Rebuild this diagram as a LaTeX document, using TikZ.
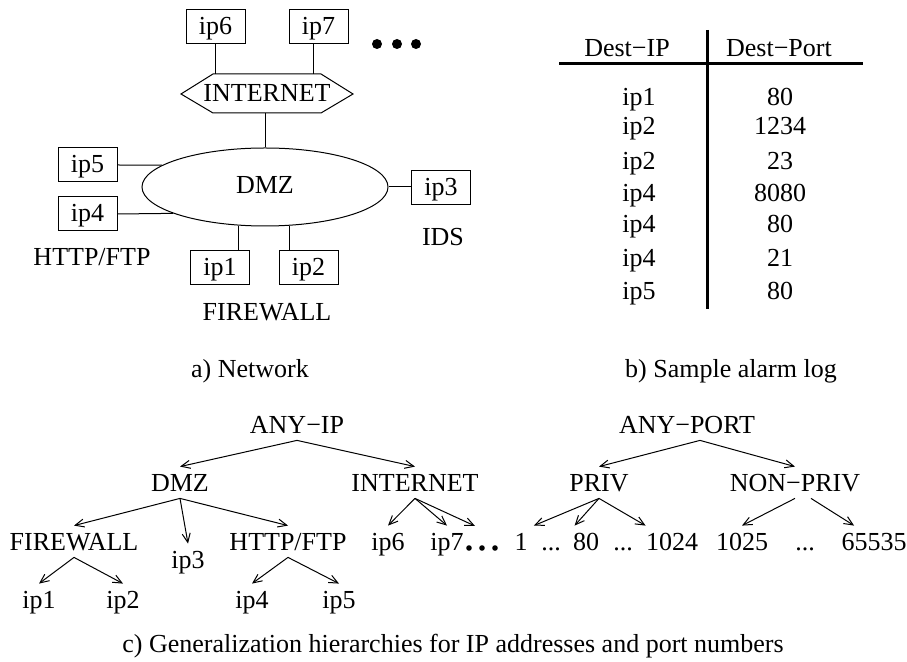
\documentclass[tikz,border=0pt]{standalone}
\usepackage{fontspec}
\setmainfont{Liberation Serif}
\usetikzlibrary{shapes,arrows.meta,positioning,calc}

\begin{document}
\begin{tikzpicture}[
    x=0.5pt, y=-0.5pt,
    every node/.style={font=\fontsize{13}{15}\selectfont, inner sep=0pt,
        text height=9pt, text depth=2.5pt},
    host/.style={draw, line width=0.5pt, minimum width=29.5pt, minimum height=17pt,
        text height=10pt, text depth=2pt},
    link/.style={line width=0.5pt},
    tn/.style={anchor=base, text height=12.5pt, text depth=3pt},
    gen/.style={line width=0.5pt, -{Straight Barb[length=4.5pt, width=4pt]}},
    bigdot/.style={circle, fill, text height=0pt, text depth=0pt, minimum size=5pt},
    smalldot/.style={circle, fill, text height=0pt, text depth=0pt, minimum size=2.8pt},
    tblline/.style={line width=1.5pt}
]
\useasboundingbox (0,0) rectangle (907,662);

% a) Network: outside hosts
\node[host] (ip6) at (215.5,27) {ip6};
\node[host] (ip7) at (318.5,27) {ip7};
\foreach \x [count=\i] in {377,397,416} {
    \node[bigdot] (more\i) at (\x,44) {};
}

% Internet hexagon
\draw[link] (181,94) -- (213,74) coordinate (inettop) -- (321,74) -- (353,94)
    -- (321,113) -- (213,113) coordinate (inetbot) -- cycle;
\node (inet) at (267,95) {INTERNET};
\draw[link] (ip6.south) -- (ip6.south |- inettop);
\draw[link] ([xshift=-2.5pt]ip7.south) -- ([xshift=-2.5pt]ip7.south |- inettop);

% DMZ and its hosts
\node[draw, ellipse, line width=0.5pt, minimum width=123pt, minimum height=39pt] (dmz) at (265,187) {DMZ};
\draw[link] (dmz.north |- inetbot) -- (dmz.north);

\node[host] (ip5) at (87.5,165) {ip5};
\node[host] (ip4) at (87.5,214) {ip4};
\node[host] (ip3) at (441,188) {ip3};
\node[host] (ip1) at (220,268) {ip1};
\node[host] (ip2) at (308.5,268) {ip2};

\draw[link] (ip5.east) -- (dmz.168);
\draw[link] (ip4.east) -- (dmz.196);
\draw[link] (dmz.east) -- (dmz.east -| ip3.west);
\draw[link] (dmz.236) -- (dmz.236 |- ip1.north);
\draw[link] (dmz.302) -- (dmz.302 |- ip2.north);

\node (ids) at (443,239) {IDS};
\node (http) at (92,259) {HTTP/FTP};
\node (fw) at (267,314) {FIREWALL};

\node (capa) at (250,371) {a) Network};

% b) Sample alarm log
\node (hip) at (627,50) {Dest−IP};
\node (hport) at (779,50) {Dest−Port};
\draw[tblline] (559,64) -- (863,64);
\draw[tblline] (707,30) -- (707,309);
\foreach \ipname/\port/\y [count=\i] in {ip1/80/99, ip2/1234/128, ip2/23/163,
    ip4/8080/195, ip4/80/226, ip4/21/260, ip5/80/293} {
    \node (logip\i) at (639,\y) {\ipname};
    \node (logport\i) at (780,\y) {\port};
}

\node (capb) at (731,371) {b) Sample alarm log};

% c) IP hierarchy
\node[tn] (anyip) at (297,434) {ANY−IP};
\node[tn] (tdmz) at (180,492) {DMZ};
\node[tn] (tinet) at (415,492) {INTERNET};
\node[tn] (tfw) at (74,551) {FIREWALL};
\node[tn] (tip3) at (188,569) {ip3};
\node[tn] (thttp) at (288,551) {HTTP/FTP};
\node[tn] (tip6) at (388,551) {ip6};
\node[tn] (tip7) at (447,551) {ip7};
\foreach \x [count=\i] in {469,482,495} {
    \node[smalldot] (tdot\i) at (\x,548) {};
}
\coordinate (tmore) at (475,526);
\node[tn] (tip1) at (39,609) {ip1};
\node[tn] (tip2) at (123,609) {ip2};
\node[tn] (tip4) at (252,609) {ip4};
\node[tn] (tip5) at (339,609) {ip5};

\draw[gen] (anyip.south) -- (tdmz.north);
\draw[gen] (anyip.south) -- (tinet.north);
\draw[gen] (tdmz.south) -- (tfw.north);
\draw[gen] (tdmz.south) -- (tip3.north);
\draw[gen] (tdmz.south) -- (thttp.north);
\draw[gen] (tfw.south) -- (tip1.north);
\draw[gen] (tfw.south) -- (tip2.north);
\draw[gen] (thttp.south) -- (tip4.north);
\draw[gen] (thttp.south) -- (tip5.north);
\draw[gen] (tinet.south) -- (tip6.north);
\draw[gen] (tinet.south) -- (tip7.north);
\draw[gen] (tinet.south) -- (tmore);

% c) port hierarchy
\node[tn] (anyport) at (687,434) {ANY−PORT};
\node[tn] (priv) at (599,492) {PRIV};
\node[tn] (npriv) at (795,492) {NON−PRIV};
\node[tn] (p1) at (521,551) {1};
\node[tn] (pdots1) at (551,551) {...};
\node[tn] (p80) at (586,551) {80};
\node[tn] (pdots2) at (623,551) {...};
\node[tn] (p1024) at (672,551) {1024};
\node[tn] (p1025) at (742,551) {1025};
\node[tn] (pdots3) at (805,551) {...};
\node[tn] (p65535) at (874,551) {65535};

\draw[gen] ([xshift=6.5pt]anyport.south) -- (priv.north);
\draw[gen] ([xshift=6.5pt]anyport.south) -- (npriv.north);
\draw[gen] (priv.south) -- ([xshift=3pt]p1.north east);
\draw[gen] (priv.south) -- ([xshift=1pt]p80.north west);
\draw[gen] (priv.south) -- (p1024.north west);
\draw[gen] (npriv.south) -- (p1025.north);
\draw[gen] ([xshift=8pt]npriv.south) -- ([xshift=6.5pt]p65535.north west);

\node (capc) at (453,646) {c) Generalization hierarchies for IP addresses and port numbers};

\end{tikzpicture}
\end{document}
